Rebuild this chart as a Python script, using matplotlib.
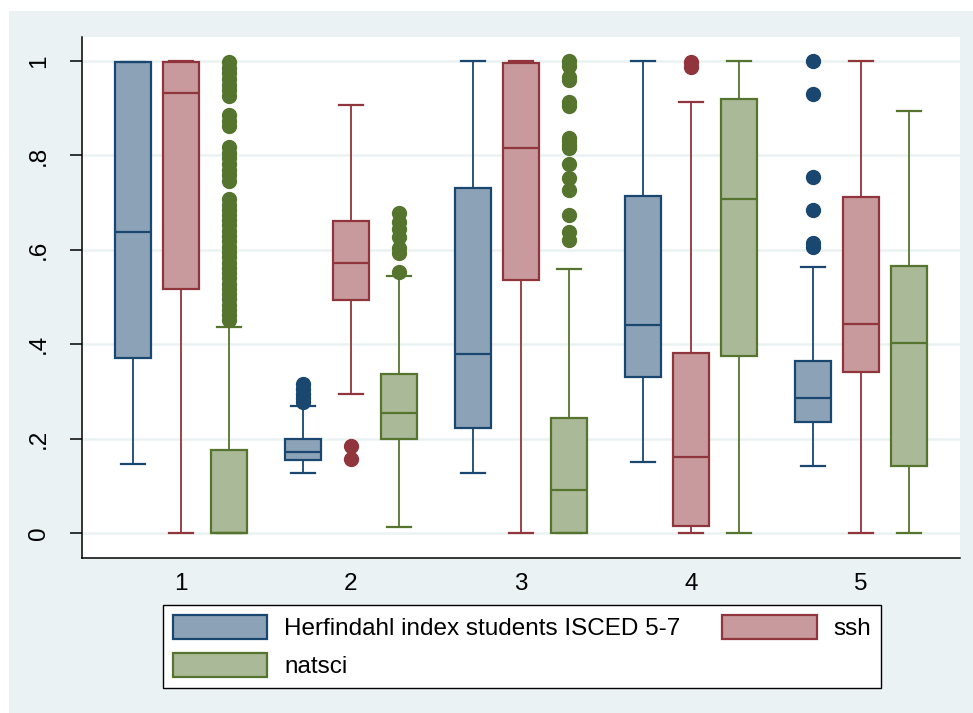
import matplotlib
matplotlib.use("Agg")
import matplotlib.pyplot as plt
from matplotlib.patches import Patch, Rectangle

plt.rcParams["font.family"] = ["Liberation Sans", "DejaVu Sans"]

# ── Data ─────────────────────────────────────────────────────────────────────
groups = [1, 2, 3, 4, 5]
series = ["Herfindahl index students ISCED 5-7", "ssh", "natsci"]

# Herfindahl index
herf_whislo = [0.146, 0.127, 0.127, 0.150, 0.142]
herf_q1 = [0.371, 0.155, 0.222, 0.331, 0.235]
herf_med = [0.638, 0.172, 0.379, 0.441, 0.286]
herf_q3 = [0.998, 0.199, 0.731, 0.714, 0.365]
herf_whishi = [0.998, 0.269, 1.000, 1.000, 0.564]
herf_fliers = [
    [],
    [0.278, 0.286, 0.295, 0.305, 0.315],
    [],
    [],
    [0.605, 0.614, 0.684, 0.754, 0.930, 1.000],
]

# ssh
ssh_whislo = [0.0, 0.295, 0.0, 0.0, 0.0]
ssh_q1 = [0.517, 0.494, 0.536, 0.015, 0.341]
ssh_med = [0.932, 0.572, 0.816, 0.161, 0.443]
ssh_q3 = [0.997, 0.661, 0.996, 0.381, 0.712]
ssh_whishi = [1.000, 0.907, 1.000, 0.913, 1.000]
ssh_fliers = [
    [],
    [0.157, 0.184],
    [],
    [0.988, 0.998],
    [],
]

# natsci
nat_whislo = [0.0, 0.013, 0.0, 0.0, 0.0]
nat_q1 = [0.0, 0.199, 0.0, 0.375, 0.142]
nat_med = [0.0, 0.254, 0.091, 0.707, 0.403]
nat_q3 = [0.176, 0.337, 0.244, 0.919, 0.566]
nat_whishi = [0.436, 0.544, 0.559, 1.000, 0.894]
nat_fliers = [
    [0.451, 0.462, 0.473, 0.484, 0.495, 0.506, 0.517, 0.528, 0.540, 0.551,
     0.562, 0.573, 0.584, 0.596, 0.607, 0.618, 0.629, 0.640, 0.652, 0.663,
     0.674, 0.685, 0.696, 0.708,
     0.746, 0.758, 0.770, 0.782, 0.794, 0.806, 0.818,
     0.862, 0.874, 0.886,
     0.926, 0.938, 0.950, 0.962, 0.974, 0.986, 0.998],
    [0.553, 0.594, 0.604, 0.628, 0.645, 0.660, 0.677],
    [0.621, 0.638, 0.674, 0.727, 0.752, 0.782, 0.815, 0.822, 0.830, 0.837,
     0.905, 0.913, 0.960, 0.966, 0.990, 1.000],
    [],
    [],
]

yticks = [0, 0.2, 0.4, 0.6, 0.8, 1.0]
ytick_labels = ["0", ".2", ".4", ".6", ".8", "1"]

# ── Style ────────────────────────────────────────────────────────────────────
BG = "#EAF2F3"
EDGE = ["#1A476F", "#90353B", "#55752F"]
FILL = ["#8CA3B7", "#C8999D", "#AAB997"]
OFFSET = 0.282
WIDTH = 0.212
FS = 17.5

fig = plt.figure(figsize=(9.73, 7.13), dpi=100)
fig.patches.append(Rectangle((9 / 973, 0), 1 - 9 / 973, 702 / 713,
                             transform=fig.transFigure, facecolor=BG,
                             edgecolor="none", zorder=-10))
ax = fig.add_axes([82 / 973, 155 / 713, 878 / 973, 521 / 713])
ax.set_facecolor("white")

stats_by_series = [
    (herf_whislo, herf_q1, herf_med, herf_q3, herf_whishi, herf_fliers),
    (ssh_whislo, ssh_q1, ssh_med, ssh_q3, ssh_whishi, ssh_fliers),
    (nat_whislo, nat_q1, nat_med, nat_q3, nat_whishi, nat_fliers),
]

for s, (lo, q1, med, q3, hi, fl) in enumerate(stats_by_series):
    stats = [dict(whislo=lo[i], q1=q1[i], med=med[i], q3=q3[i],
                  whishi=hi[i], fliers=fl[i]) for i in range(len(groups))]
    pos = [g + (s - 1) * OFFSET for g in groups]
    ax.bxp(stats, positions=pos, widths=WIDTH, patch_artist=True,
           showfliers=True, manage_ticks=False,
           boxprops=dict(facecolor=FILL[s], edgecolor=EDGE[s], linewidth=1.6),
           medianprops=dict(color=EDGE[s], linewidth=1.6),
           whiskerprops=dict(color=EDGE[s], linewidth=1.3),
           capprops=dict(color=EDGE[s], linewidth=1.6),
           capwidths=0.145,
           flierprops=dict(marker="o", markerfacecolor=EDGE[s],
                           markeredgecolor=EDGE[s], markersize=10,
                           linestyle="none"))

ax.set_xlim(0.418, 5.582)
ax.set_ylim(-0.053, 1.051)
ax.set_yticks(yticks)
ax.set_yticklabels(ytick_labels, rotation=90, va="center")
ax.set_xticks(groups)
ax.set_xticklabels([str(g) for g in groups])
ax.tick_params(axis="x", length=0, pad=11, labelsize=FS)
ax.tick_params(axis="y", length=9, width=1.1, pad=14, labelsize=FS)
ax.yaxis.grid(True, color=BG, linewidth=1.8, zorder=0)
ax.set_axisbelow(True)
for side in ("top", "right"):
    ax.spines[side].set_visible(False)
for side in ("left", "bottom"):
    ax.spines[side].set_linewidth(1.1)
    ax.spines[side].set_color("black")

# legend: two columns, row-wise order (Herfindahl, ssh / natsci)
handles = [Patch(facecolor=FILL[i], edgecolor=EDGE[i], linewidth=1.6)
           for i in range(3)]
order = [0, 2, 1]
leg = fig.legend([handles[i] for i in order], [series[i] for i in order],
                 ncol=2, loc="center", bbox_to_anchor=(0.5365, 0.0933),
                 fontsize=FS, frameon=True, fancybox=False, framealpha=1,
                 handlelength=3.9, handleheight=1.15, columnspacing=1.7,
                 handletextpad=0.7, labelspacing=0.5, borderpad=0.4,
                 borderaxespad=0)
leg.get_frame().set_edgecolor("black")
leg.get_frame().set_facecolor("white")
leg.get_frame().set_linewidth(1.0)

fig.savefig("out.png", dpi=100)
